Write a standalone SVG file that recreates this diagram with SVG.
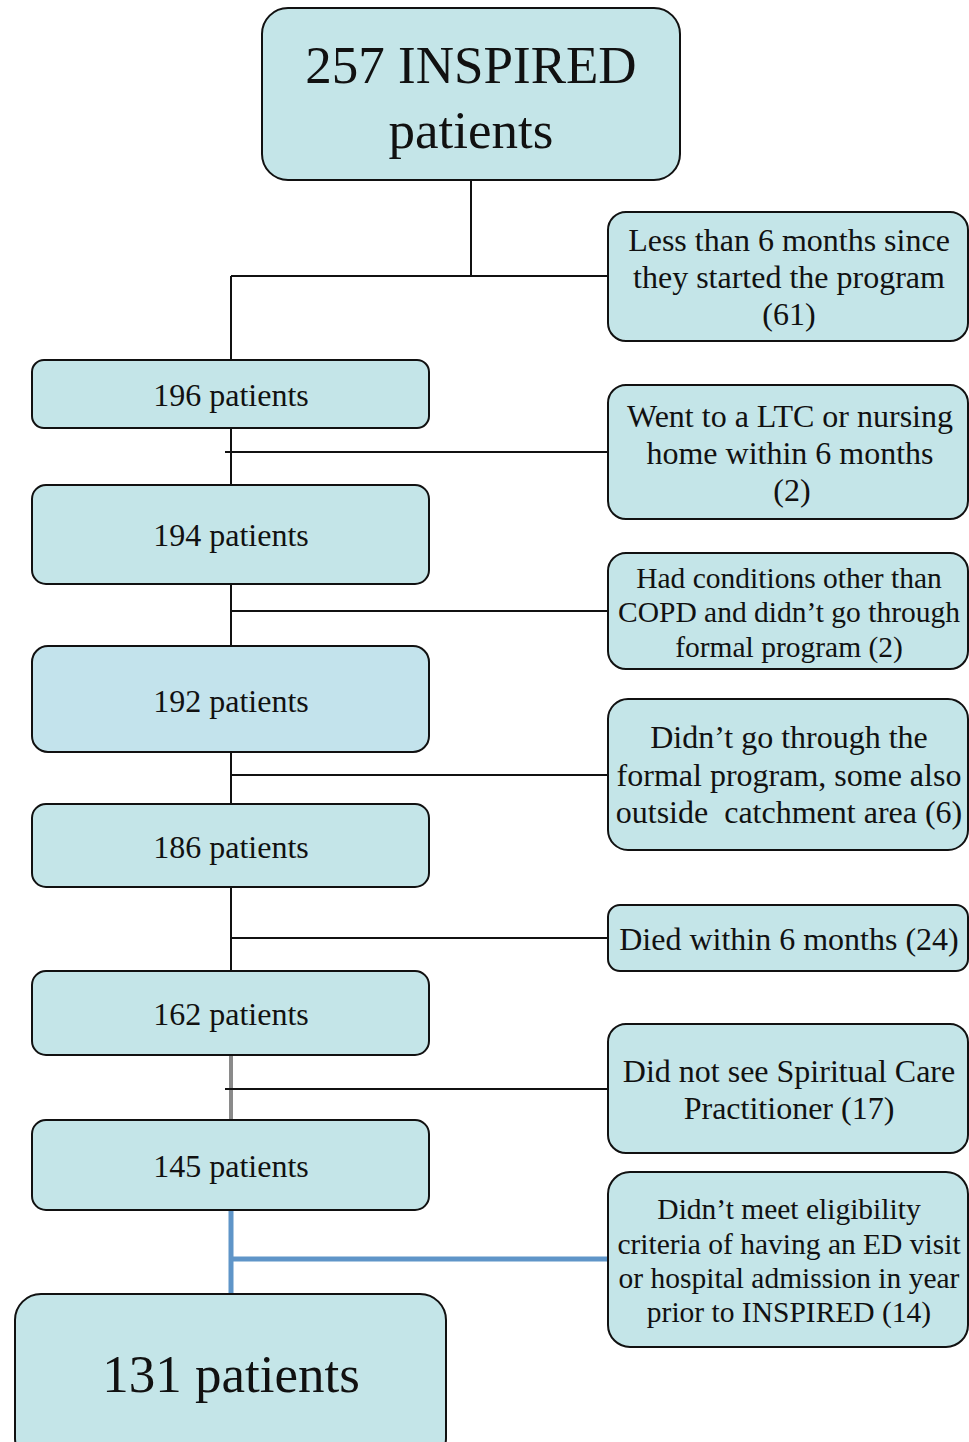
<svg xmlns="http://www.w3.org/2000/svg" width="969" height="1442" viewBox="0 0 969 1442">
<style>
.box{fill:#c4e5e8;stroke:#111;stroke-width:2}
.box2{fill:#c3e3ec;stroke:#111;stroke-width:2}
text{font-family:"Liberation Serif","Times New Roman",serif;fill:#111;text-anchor:middle}
.t29{font-size:32px}
.t27{font-size:29.5px}
.t50{font-size:53px}
.c{stroke:#111;stroke-width:2;fill:none}
</style>
<rect width="969" height="1442" fill="#fff"/>
<g id="connectors">
<path class="c" d="M471 180V276M231 276H608M231 276V360"/>
<path class="c" d="M231 428V485M225 452H608"/>
<path class="c" d="M231 584V646M231 611H608"/>
<path class="c" d="M231 752V804M231 775H608"/>
<path class="c" d="M231 887V971M231 938H608"/>
<path d="M231 1055V1120" stroke="#8a8a8a" stroke-width="4"/>
<path class="c" d="M225 1089H608"/>
<path d="M231 1211V1294M231 1259H608" stroke="#5f95c8" stroke-width="5" fill="none"/>
</g>
<g id="n257">
<rect class="box" x="262" y="8" width="418" height="172" rx="26"/>
<text class="t50" x="471" y="83">257 INSPIRED</text>
<text class="t50" x="471" y="148">patients</text>
</g>
<g id="r1">
<rect class="box" x="608" y="212" width="360" height="129" rx="18"/>
<text class="t29" x="789" y="251">Less than 6 months since</text>
<text class="t29" x="789" y="288">they started the program</text>
<text class="t29" x="789" y="325">(61)</text>
</g>
<g id="n196">
<rect class="box" x="32" y="360" width="397" height="68" rx="12"/>
<text class="t29" x="231" y="406">196 patients</text>
</g>
<g id="r2">
<rect class="box" x="608" y="385" width="360" height="134" rx="18"/>
<text class="t29" x="790" y="427">Went to a LTC or nursing</text>
<text class="t29" x="790" y="464">home within 6 months</text>
<text class="t29" x="792" y="501">(2)</text>
</g>
<g id="n194">
<rect class="box" x="32" y="485" width="397" height="99" rx="14"/>
<text class="t29" x="231" y="546">194 patients</text>
</g>
<g id="r3">
<rect class="box" x="608" y="553" width="360" height="116" rx="18"/>
<text class="t27" x="789" y="588">Had conditions other than</text>
<text class="t27" x="789" y="622">COPD and didn’t go through</text>
<text class="t27" x="789" y="657">formal program (2)</text>
</g>
<g id="n192">
<rect class="box2" x="32" y="646" width="397" height="106" rx="16"/>
<text class="t29" x="231" y="712">192 patients</text>
</g>
<g id="r4">
<rect class="box" x="608" y="699" width="360" height="151" rx="20"/>
<text class="t29" x="789" y="748">Didn’t go through the</text>
<text class="t29" x="789" y="786">formal program, some also</text>
<text class="t29" x="789" y="823" xml:space="preserve">outside  catchment area (6)</text>
</g>
<g id="n186">
<rect class="box" x="32" y="804" width="397" height="83" rx="14"/>
<text class="t29" x="231" y="858">186 patients</text>
</g>
<g id="r5">
<rect class="box" x="608" y="905" width="360" height="66" rx="12"/>
<text class="t29" x="789" y="950">Died within 6 months (24)</text>
</g>
<g id="n162">
<rect class="box" x="32" y="971" width="397" height="84" rx="14"/>
<text class="t29" x="231" y="1025">162 patients</text>
</g>
<g id="r6">
<rect class="box" x="608" y="1024" width="360" height="129" rx="18"/>
<text class="t29" x="789" y="1082">Did not see Spiritual Care</text>
<text class="t29" x="789" y="1119">Practitioner (17)</text>
</g>
<g id="n145">
<rect class="box" x="32" y="1120" width="397" height="90" rx="14"/>
<text class="t29" x="231" y="1177">145 patients</text>
</g>
<g id="r7">
<rect class="box" x="608" y="1172" width="360" height="175" rx="22"/>
<text class="t27" x="789" y="1219">Didn’t meet eligibility</text>
<text class="t27" x="789" y="1254">criteria of having an ED visit</text>
<text class="t27" x="789" y="1288">or hospital admission in year</text>
<text class="t27" x="789" y="1322">prior to INSPIRED (14)</text>
</g>
<g id="n131">
<rect class="box" x="15" y="1294" width="431" height="170" rx="26"/>
<text class="t50" x="231" y="1392">131 patients</text>
</g>
</svg>
